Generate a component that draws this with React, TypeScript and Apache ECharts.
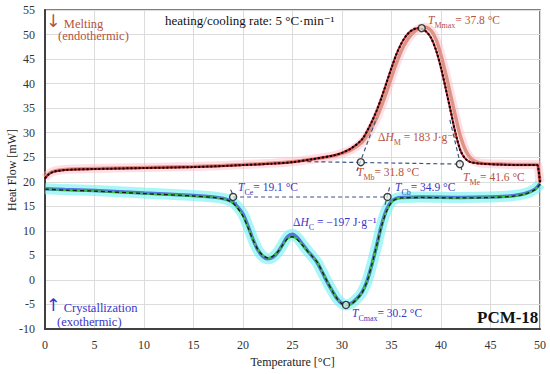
import React, { useEffect, useRef } from "react";
import * as echarts from "echarts";

// ---------- data ----------
const xTicks = [0, 5, 10, 15, 20, 25, 30, 35, 40, 45, 50];
const yTicks = [-10, -5, 0, 5, 10, 15, 20, 25, 30, 35, 40, 45, 50, 55];

const heatMeasT = [0, 0.3, 0.7, 1.2, 2, 3, 5, 10, 15, 20, 23, 25, 27, 29, 30, 31, 32, 32.5, 33, 33.5, 34, 34.5, 35, 35.5, 36, 36.5, 37, 37.5, 38, 38.4, 39, 39.5, 40, 40.5, 41, 41.5, 42, 42.5, 43, 43.5, 44, 46, 48, 49.7, 49.85, 50];
const heatMeasV = [20.8, 21.5, 22.0, 22.3, 22.5, 22.6, 22.7, 22.9, 23.1, 23.5, 23.8, 24.1, 24.6, 25.2, 25.8, 26.6, 28.0, 29.3, 31.0, 33.0, 35.5, 38.3, 41.3, 44.2, 46.7, 48.6, 50.0, 50.9, 51.4, 51.5, 50.8, 49.0, 45.8, 41.8, 37.4, 33.0, 29.0, 26.3, 24.8, 24.1, 23.8, 23.6, 23.5, 23.5, 22.5, 19.9];

const heatFitT = [0, 0.3, 0.7, 1.2, 2, 3, 5, 10, 15, 20, 23, 25, 27, 29, 30, 31, 32, 32.5, 33, 33.5, 34, 34.5, 35, 35.5, 36, 36.5, 37, 37.6, 38, 38.5, 39, 39.5, 40, 40.5, 41, 41.5, 42, 42.5, 43, 44, 46, 48, 49.7, 49.85, 50];
const heatFitV = [20.7, 21.4, 21.9, 22.2, 22.4, 22.5, 22.6, 22.8, 23.0, 23.4, 23.7, 24.0, 24.6, 25.3, 25.9, 26.9, 28.6, 30.2, 32.2, 34.5, 37.2, 40.2, 43.2, 46.0, 48.2, 49.8, 50.8, 51.3, 51.2, 50.6, 49.3, 46.8, 43.2, 38.8, 34.2, 29.6, 26.2, 24.6, 24.0, 23.7, 23.5, 23.4, 23.4, 22.5, 19.8];

const coolMeasT = [0, 2, 5, 10, 15, 17, 18, 18.5, 19, 19.5, 20, 20.5, 21, 21.5, 22, 22.5, 23, 23.5, 24, 24.5, 25, 25.5, 26, 26.5, 27, 27.5, 28, 28.5, 29, 29.5, 30, 30.4, 31, 31.5, 32, 32.5, 33, 33.5, 34, 34.5, 35, 35.5, 36, 38, 42, 45, 47, 48.5, 49.5, 50];
const coolMeasV = [18.6, 18.4, 18.2, 17.7, 17.2, 16.9, 16.6, 16.3, 15.8, 14.8, 13.4, 11.0, 8.3, 6.1, 4.8, 4.3, 4.6, 5.6, 7.2, 8.8, 9.3, 8.6, 7.3, 6.0, 4.8, 3.5, 1.6, -0.4, -2.2, -3.8, -4.8, -5.1, -4.7, -3.8, -2.6, -0.4, 3.0, 7.0, 11.2, 14.3, 16.0, 16.6, 16.8, 16.9, 16.8, 16.9, 17.1, 17.6, 18.5, 19.6];

const coolFitT = [0, 2, 5, 10, 15, 17, 18, 18.5, 19, 19.5, 20, 20.5, 21, 21.5, 22, 22.5, 23, 23.5, 24, 24.5, 25, 25.5, 26, 26.5, 27, 27.5, 28, 28.5, 29, 29.5, 30, 30.4, 31, 31.5, 32, 32.5, 33, 33.5, 34, 34.5, 35, 35.5, 36, 38, 42, 45, 47, 48.5, 49.5, 50];
const coolFitV = [18.5, 18.3, 18.1, 17.6, 17.1, 16.8, 16.5, 16.2, 15.6, 14.5, 13.0, 10.7, 8.2, 6.2, 5.0, 4.5, 4.8, 5.7, 7.1, 8.4, 8.8, 8.2, 7.1, 5.9, 4.8, 3.6, 1.7, -0.3, -2.2, -3.8, -4.9, -5.2, -4.8, -3.9, -2.7, -0.5, 3.0, 7.0, 11.0, 14.0, 15.8, 16.5, 16.7, 16.8, 16.7, 16.8, 17.0, 17.5, 18.4, 19.5];

// characteristic points [T, heatflow]
const meltPoints = [[38.05, 51.3], [31.9, 24.0], [41.9, 23.6]];
const crystPoints = [[19.0, 16.9], [34.6, 16.9], [30.4, -5.1]];

// construction (tangent/baseline) segments
const meltBaseline = [[26.5, 24.1], [41.9, 23.6]];
const meltTangentRise = [[31.5, 22.2], [33.5, 33.0]];
const meltTangentFall = [[40.9, 32.6], [42.1, 22.4]];
const crystBaseline = [[19.0, 16.9], [34.6, 16.9]];
const crystTangentOn = [[18.75, 18.4], [19.35, 15.6]];
const crystTangentOff = [[34.35, 15.3], [34.85, 19.2]];

const zip = (a: number[], b: number[]) => a.map((v, i) => [v, b[i]]);

const SERIF = "'Liberation Serif', 'DejaVu Serif', serif";
const MELT = "#b5533c";
const CRYS = "#3a35c8";

function sub(label: string, subText: string, rest: string) {
  return `{t|${label}}{s|${subText}}{n|${rest}}`;
}

export default function App() {
  const ref = useRef<HTMLDivElement>(null);
  useEffect(() => {
    document.body.style.margin = "0";
    if (!ref.current) return;
    const chart = echarts.init(ref.current, null, { renderer: "svg" });
    const rich = (color: string, fs: number) => ({
      t: { fontStyle: "italic", fontSize: fs, fontFamily: SERIF, color, lineHeight: 14, verticalAlign: "bottom" },
      s: { fontSize: fs - 3.5, fontFamily: SERIF, color, lineHeight: 14, verticalAlign: "bottom", padding: [0, 0, -3, 0] },
      n: { fontSize: fs, fontFamily: SERIF, color, lineHeight: 14, verticalAlign: "bottom" },
      a: { fontSize: fs + 5, fontFamily: "'DejaVu Sans', sans-serif", color, lineHeight: 16, verticalAlign: "bottom" },
    });
    const txt = (x: number, y: number, text: string, color: string, extra: any = {}) => {
      const fs = extra.fontSize || 11.5;
      return {
        type: "text",
        x,
        y,
        z: 100,
        style: {
          text,
          fill: color,
          fontFamily: SERIF,
          fontSize: fs,
          verticalAlign: "middle",
          align: "left",
          rich: rich(color, fs),
          ...extra,
        },
      };
    };
    const dashed = (pts: number[][]) => ({
      type: "line",
      data: pts,
      symbol: "none",
      silent: true,
      z: 6,
      lineStyle: { color: "#3f5580", width: 1.2, type: [4, 3] },
    });
    chart.setOption({
      animation: false,
      backgroundColor: "#ffffff",
      grid: {
        left: 45,
        right: 10,
        top: 10,
        bottom: 45,
        show: true,
        borderColor: "#555",
        borderWidth: 1.5,
        containLabel: false,
        outerBoundsMode: "none",
      },
      xAxis: {
        type: "value",
        min: 0,
        max: 50,
        interval: 5,
        name: "Temperature [°C]",
        nameLocation: "middle",
        nameGap: 27,
        nameTextStyle: { fontFamily: SERIF, fontSize: 12, color: "#222" },
        axisLine: { show: true, onZero: false, lineStyle: { color: "#404040", width: 2 } },
        axisTick: { show: false },
        axisLabel: { fontFamily: SERIF, fontSize: 12, color: "#333", margin: 10 },
        splitLine: { show: true, lineStyle: { color: "#dcdcdc", width: 1 } },
      },
      yAxis: {
        type: "value",
        min: -10,
        max: 55,
        interval: 5,
        axisLine: { show: true, onZero: false, lineStyle: { color: "#404040", width: 2 } },
        axisTick: { show: false },
        axisLabel: { fontFamily: SERIF, fontSize: 12, color: "#333", margin: 10 },
        splitLine: { show: true, lineStyle: { color: "#dcdcdc", width: 1 } },
      },
      series: [
        { type: "line", data: zip(heatMeasT, heatMeasV), symbol: "none", smooth: 0.3, z: 2, lineStyle: { color: "rgba(255,175,190,0.4)", width: 9 } },
        { type: "line", data: zip(heatMeasT, heatMeasV), symbol: "none", smooth: 0.3, z: 3, lineStyle: { color: "#dc9484", width: 3.5 } },
        { type: "line", data: zip(heatFitT, heatFitV), symbol: "none", smooth: 0.3, z: 4, lineStyle: { color: "#b0202a", width: 2 } },
        { type: "line", data: zip(heatFitT, heatFitV), symbol: "none", smooth: 0.3, z: 5, lineStyle: { color: "#000", width: 2, type: [2, 2] } },
        { type: "line", data: zip(coolMeasT, coolMeasV), symbol: "none", smooth: 0.3, z: 2, lineStyle: { color: "rgba(110,240,240,0.6)", width: 11 } },
        { type: "line", data: zip(coolMeasT, coolMeasV), symbol: "none", smooth: 0.3, z: 3, lineStyle: { color: "#5078e0", width: 3.5 } },
        { type: "line", data: zip(coolFitT, coolFitV), symbol: "none", smooth: 0.3, z: 4, lineStyle: { color: "#35c535", width: 1.8 } },
        { type: "line", data: zip(coolFitT, coolFitV), symbol: "none", smooth: 0.3, z: 5, lineStyle: { color: "#1a1a1a", width: 1.3, type: [4, 3] } },
        dashed(meltBaseline),
        dashed(meltTangentRise),
        dashed(meltTangentFall),
        dashed(crystBaseline),
        dashed(crystTangentOn),
        dashed(crystTangentOff),
        {
          type: "scatter",
          data: [...meltPoints, ...crystPoints],
          symbol: "circle",
          symbolSize: 7,
          z: 10,
          itemStyle: { color: "rgba(235,245,240,0.9)", borderColor: "#111", borderWidth: 1.4 },
        },
      ],
      graphic: [
        {
          type: "text",
          x: 12,
          y: 170,
          rotation: Math.PI / 2,
          z: 100,
          style: {
            text: "Heat Flow [mW]",
            fill: "#222",
            fontFamily: SERIF,
            fontSize: 12,
            align: "center",
            verticalAlign: "middle",
          },
        },
        txt(46, 22, "{a|↓}{n| Melting}", MELT, { fontSize: 12.5 }),
        txt(58, 36, "(endothermic)", MELT, { fontSize: 12.5 }),
        txt(165, 20, "heating/cooling rate: 5 °C·min⁻¹", "#111", { fontSize: 13 }),
        txt(428, 19, sub("T", "Mmax", "= 37.8 °C"), MELT),
        txt(378, 136, "{n|Δ}{t|H}{s|M}{n| = 183 J·g⁻¹}", MELT),
        txt(357, 171, sub("T", "Mb", "= 31.8 °C"), MELT),
        txt(463, 176, sub("T", "Me", "= 41.6 °C"), MELT),
        txt(238, 186, sub("T", "Ce", "= 19.1 °C"), CRYS),
        txt(395, 186, sub("T", "Cb", "= 34.9 °C"), CRYS),
        txt(293, 221, "{n|Δ}{t|H}{s|C}{n| = −197 J·g⁻¹}", CRYS),
        txt(352, 312, sub("T", "Cmax", "= 30.2 °C"), CRYS),
        txt(46, 306, "{a|↑}{n| Crystallization}", CRYS, { fontSize: 12.5 }),
        txt(57, 322, "(exothermic)", CRYS, { fontSize: 12.5 }),
        txt(477, 317, "PCM-18", "#111", { fontSize: 17, fontWeight: "bold" }),
      ],
    });
    return () => chart.dispose();
  }, []);
  return <div ref={ref} style={{ width: 550, height: 374 }} />;
}
